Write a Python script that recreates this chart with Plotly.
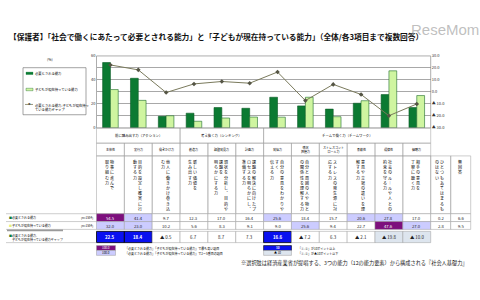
import plotly.graph_objects as go

W, H = 480, 300
FONT = "Noto Sans CJK JP"

# ---------------- data ----------------
categories = ["主体性", "実行力", "働きかけ力", "創造力", "課題発見力", "計画力",
              "発信力", "情況把握力", "ストレスコントロール力", "柔軟性", "規律性", "傾聴力"]
header_labels = ["主体性", "実行力", "働きかけ力", "創造力", "課題発見力", "計画力",
                 "発信力", "情況<br>把握力", "ストレスコント<br>ロール力", "柔軟性", "規律性", "傾聴力"]
descriptions = [
    ["物事に進んで", "取り組む力"],
    ["目的を設定し確実に行", "動する力"],
    ["他人に働きかけ巻き込", "む力"],
    ["新しい価値を", "生み出す力"],
    ["現状を分析し、目的や", "課題を", "明らかにする力"],
    ["課題の解決に向けたプ", "ロセスを明らかにし、", "準備する力"],
    ["自分の意見をわかりや", "すく", "伝える力"],
    ["自分と周囲の人や物と", "の関係性を理解する力"],
    ["ストレスの発生源に対", "応する力"],
    ["意見や立場の違いを理", "解する力"],
    ["社会のルールや人との", "約束を守る力"],
    ["相手の意見を", "丁寧に聴く力"],
]
extra_descriptions = [["ひとつもあてはまるも", "のはない"], ["無回答"]]
groups = ["前に踏み出す力（アクション）", "考え抜く力（シンキング）", "チームで働く力（チームワーク）"]
group_spans = [(0, 3), (3, 6), (6, 12)]

required = [54.5, 41.4, 9.7, 12.3, 17.0, 16.4, 25.6, 18.4, 15.7, 20.6, 27.8, 17.0]
current = [32.0, 23.0, 10.2, 5.6, 8.3, 9.1, 9.0, 25.6, 9.4, 22.7, 47.6, 27.0]
gap = [22.5, 18.4, -0.5, 6.7, 8.7, 7.3, 16.6, -7.2, 6.3, -2.1, -19.8, -10.0]
extra_required = [0.2, 6.6]
extra_current = [2.8, 9.5]

series_names = ["必要とされる能力", "子どもが現在持っている能力",
                "必要とされる能力-子どもが現在持っている能力ギャップ"]
n_label = "(n=1584)"

left_tickvals = [0, 10, 20, 30, 40, 50, 60]
left_ticktext = ["0", "", "20", "", "40", "", "60"]
right_tickvals = [-30, -20, -10, 0, 10, 20, 30]
right_ticktext = ["▲ 30.0", "▲ 20.0", "▲ 10.0", "0.0", "10.0", "20.0", "30.0"]

title_text = "【保護者】「社会で働くにあたって必要とされる能力」と「子どもが現在持っている能力」（全体/各3項目まで複数回答）"
footnote = "※選択肢は経済産業省が提唱する、3つの能力（12の能力要素）から構成される『社会人基礎力』"
legend_notes = ["「必要とされる能力」「子どもが現在持っている能力」で最も高い項目",
                "「必要とされる能力」「子どもが現在持っている能力」で2～5番目の項目"]
gap_notes = ["「①-②」が10ポイント以上", "「①-②」が▲10ポイント以下"]

# ---------------- styles ----------------
DARK = "#0b7a32"
LIGHT = "#cff5a0"
LINEC = "#7a7a5c"
PURPLE = "#7d0f7d"
LAV = "#ccccff"
BLUE = "#0a10f0"
PALE = "#dde5ee"
GRID = "#a8a8a8"
BORDER = "#9c9c9c"

X0, CW = 96.5, 27.85
NC = len(categories)
XR = X0 + CW * NC
EXW = 20.0
Y_TOP, Y_BOT = 53.0, 126.5


def fx(x):
    return x / W


def fy(y):
    return 1 - y / H


shapes, annotations = [], []


def rect(x0, y0, x1, y1, fill="rgba(0,0,0,0)", line=BORDER, lw=0.5):
    shapes.append(dict(type="rect", xref="paper", yref="paper",
                       x0=fx(x0), x1=fx(x1), y0=fy(y1), y1=fy(y0),
                       fillcolor=fill, line=dict(color=line, width=lw), layer="above"))


def hline(x0, x1, y, color=BORDER, lw=0.5):
    shapes.append(dict(type="line", xref="paper", yref="paper",
                       x0=fx(x0), x1=fx(x1), y0=fy(y), y1=fy(y),
                       line=dict(color=color, width=lw), layer="above"))


def text(x, y, s, size, color="#000", xanchor="center", yanchor="middle", align="center"):
    annotations.append(dict(xref="paper", yref="paper", x=fx(x), y=fy(y), text=s,
                            showarrow=False, xanchor=xanchor, yanchor=yanchor, align=align,
                            borderpad=0, font=dict(size=size, color=color, family=FONT)))


def col_x(i):
    if i < NC:
        return X0 + CW * i, X0 + CW * (i + 1)
    j = i - NC
    return XR + EXW * j, XR + EXW * (j + 1)


def vert(s):
    s = s.replace("ー", "︱").replace("、", "︑")
    return "<br>".join(list(s))


# ---------------- chart traces ----------------
xs = list(range(NC))
fig = go.Figure()
fig.add_trace(go.Bar(x=xs, y=required, name=series_names[0],
                     marker=dict(color=DARK, line=dict(color="#0a5a25", width=0.6))))
fig.add_trace(go.Bar(x=xs, y=current, name=series_names[1],
                     marker=dict(color=LIGHT, line=dict(color="#1d6b2c", width=0.6))))
fig.add_trace(go.Scatter(x=xs, y=gap, name=series_names[2], yaxis="y2", mode="lines+markers",
                         line=dict(color=LINEC, width=1),
                         marker=dict(symbol="diamond", size=3.5, color="#555545")))

# plot frame
rect(X0, Y_TOP, XR, Y_BOT, line="#8a8a8a", lw=0.7)

# chart legend box
rect(23, 65, 86, 113, fill="white", line="#666", lw=0.6)
rect(26, 69.5, 33, 72, fill=DARK, line=DARK, lw=0.3)
text(34, 70.8, series_names[0], 3.3, xanchor="left")
rect(26, 86, 33, 88.5, fill=LIGHT, line="#1d6b2c", lw=0.4)
text(34, 87.3, series_names[1], 3.3, xanchor="left")
hline(25, 33, 102.5, color=LINEC, lw=0.8)
text(29, 102.5, "◆", 2.6, color="#555545")
text(34, 105.8, "必要とされる能力-子どもが現在持っ<br>ている能力ギャップ", 3.3,
     xanchor="left", align="left")

text(50, 57, "(%)", 3.5)

# ---------------- table ----------------
R_G0, R_G1 = Y_BOT, 142.0
R_N1 = 155.0
R_D1 = 214.0
R_1 = 222.0
R_2 = 230.0
R_3a, R_3b = 232.0, 243.5

# group header row
for g, (a, b) in zip(groups, group_spans):
    xa, xb = col_x(a)[0], col_x(b - 1)[1]
    rect(xa, R_G0, xb, R_G1)
    text((xa + xb) / 2, (R_G0 + R_G1) / 2, g, 3.4)

# column header & description rows
for i in range(NC + 2):
    xa, xb = col_x(i)
    cx = (xa + xb) / 2
    if i < NC:
        rect(xa, R_G1, xb, R_N1)
        text(cx, (R_G1 + R_N1) / 2, header_labels[i], 3.0)
        cols = descriptions[i]
    else:
        cols = extra_descriptions[i - NC]
    rect(xa, R_N1, xb, R_D1)
    k = len(cols)
    for j, s in enumerate(cols):
        x = cx - 1 + (k - 1) / 2 * 5.0 - j * 5.0
        text(x, R_N1 + 2.0, vert(s), 4.0, yanchor="top")


def ranked_fills(values):
    order = sorted(range(len(values)), key=lambda t: -values[t])
    fills = ["white"] * len(values)
    fills[order[0]] = PURPLE
    for t in order[1:5]:
        fills[t] = LAV
    return fills


row1 = required + extra_required
row2 = current + extra_current
for (vals, y0, y1) in [(row1, R_D1, R_1), (row2, R_1, R_2)]:
    fills = ranked_fills(vals)
    for i, v in enumerate(vals):
        xa, xb = col_x(i)
        rect(xa, y0, xb, y1, fill=fills[i])
        text((xa + xb) / 2, (y0 + y1) / 2 + 0.3, f"{v:.1f}", 4.2,
             color="white" if fills[i] == PURPLE else "#222")

for i, v in enumerate(gap):
    xa, xb = col_x(i)
    if v >= 10:
        fill, col, lc, lw = BLUE, "white", "#000", 0.8
    elif v <= -10:
        fill, col, lc, lw = PALE, "#222", BORDER, 0.5
    else:
        fill, col, lc, lw = "white", "#222", BORDER, 0.5
    rect(xa, R_3a, xb, R_3b, fill=fill, line=lc, lw=lw)
    s = f"▲ {abs(v):.1f}" if v < 0 else f"{v:.1f}"
    if v >= 10:
        s = f"<b>{s}</b>"
    text((xa + xb) / 2, (R_3a + R_3b) / 2 + 0.3, s, 4.4, color=col)

# row label area
for y in [R_D1, R_1, R_2]:
    hline(6, X0, y)
hline(7, 63, R_2 + 1.0, color="#9a9a9a", lw=1.6)
hline(6, X0, R_3b)
text(8, (R_D1 + R_1) / 2 + 0.3, f"<span style='color:{DARK}'>■</span>{series_names[0]}", 3.0, xanchor="left")
text(94, (R_D1 + R_1) / 2 + 0.3, n_label, 3.0, xanchor="right")
text(8, (R_1 + R_2) / 2 + 0.3, f"<span style='color:#e6f07a'>■</span>{series_names[1]}", 3.0, xanchor="left")
text(94, (R_1 + R_2) / 2 + 0.3, n_label, 3.0, xanchor="right")
text(8, (R_3a + R_3b) / 2 + 0.3,
     f"<span style='color:{DARK}'>■</span>必要とされる能力-<br>　子どもが現在持っている能力ギャップ", 3.0,
     xanchor="left", align="left")

# bottom legends
rect(96.5, 246.5, 115.5, 251.5, fill=PURPLE, line=BORDER)
text(106, 249.2, "100.0", 3.0, color="white")
rect(96.5, 251.5, 115.5, 256.5, fill=LAV, line=BORDER)
text(106, 254.2, "100.0", 3.0)
text(124, 249.2, legend_notes[0], 3.0, xanchor="left")
text(124, 254.2, legend_notes[1], 3.0, xanchor="left")

bx0, bx1 = col_x(6)
rect(bx0, 246.5, bx1, 251.5, fill=BLUE, line="#000", lw=0.6)
text((bx0 + bx1) / 2, 249.2, "<b>10</b>", 3.0, color="white")
rect(bx0, 251.5, bx1, 256.5, fill=PALE, line=BORDER)
text((bx0 + bx1) / 2, 254.2, "▲ 10", 3.0)
text(297, 249.2, gap_notes[0], 3.0, xanchor="left")
text(297, 254.2, gap_notes[1], 3.0, xanchor="left")

text(240, 264.5, footnote, 5.2, color="#222", xanchor="left")

# title & watermark
text(8, 33.5, f"<b>{title_text}</b>", 7.7, color="#111", xanchor="left")
annotations.append(dict(xref="paper", yref="paper", x=fx(445), y=fy(26), text="ReseMom",
                        showarrow=False, xanchor="center", yanchor="middle", borderpad=0,
                        font=dict(size=15, color="rgba(170,170,170,0.75)", family="Liberation Sans")))

fig.update_layout(
    width=W, height=H, margin=dict(l=0, r=0, t=0, b=0),
    paper_bgcolor="white", plot_bgcolor="white",
    showlegend=False, barmode="group", bargap=0.44, bargroupgap=0.0,
    font=dict(family=FONT, size=4, color="#333"),
    xaxis=dict(domain=[fx(X0), fx(XR)], range=[-0.5, NC - 0.5], showticklabels=False,
               showgrid=False, zeroline=False, showline=False, ticks=""),
    yaxis=dict(domain=[fy(Y_BOT), fy(Y_TOP)], range=[0, 60], tickvals=left_tickvals,
               ticktext=left_ticktext, showgrid=True, gridcolor=GRID, gridwidth=0.6,
               zeroline=False, showline=False, ticks="", tickfont=dict(size=4, color="#333")),
    yaxis2=dict(overlaying="y", side="right", range=[-30, 30], tickvals=right_tickvals,
                ticktext=right_ticktext, showgrid=False, zeroline=False, showline=False,
                ticks="", tickfont=dict(size=4, color="#333")),
    shapes=shapes, annotations=annotations,
)

fig.write_html("out.html")
